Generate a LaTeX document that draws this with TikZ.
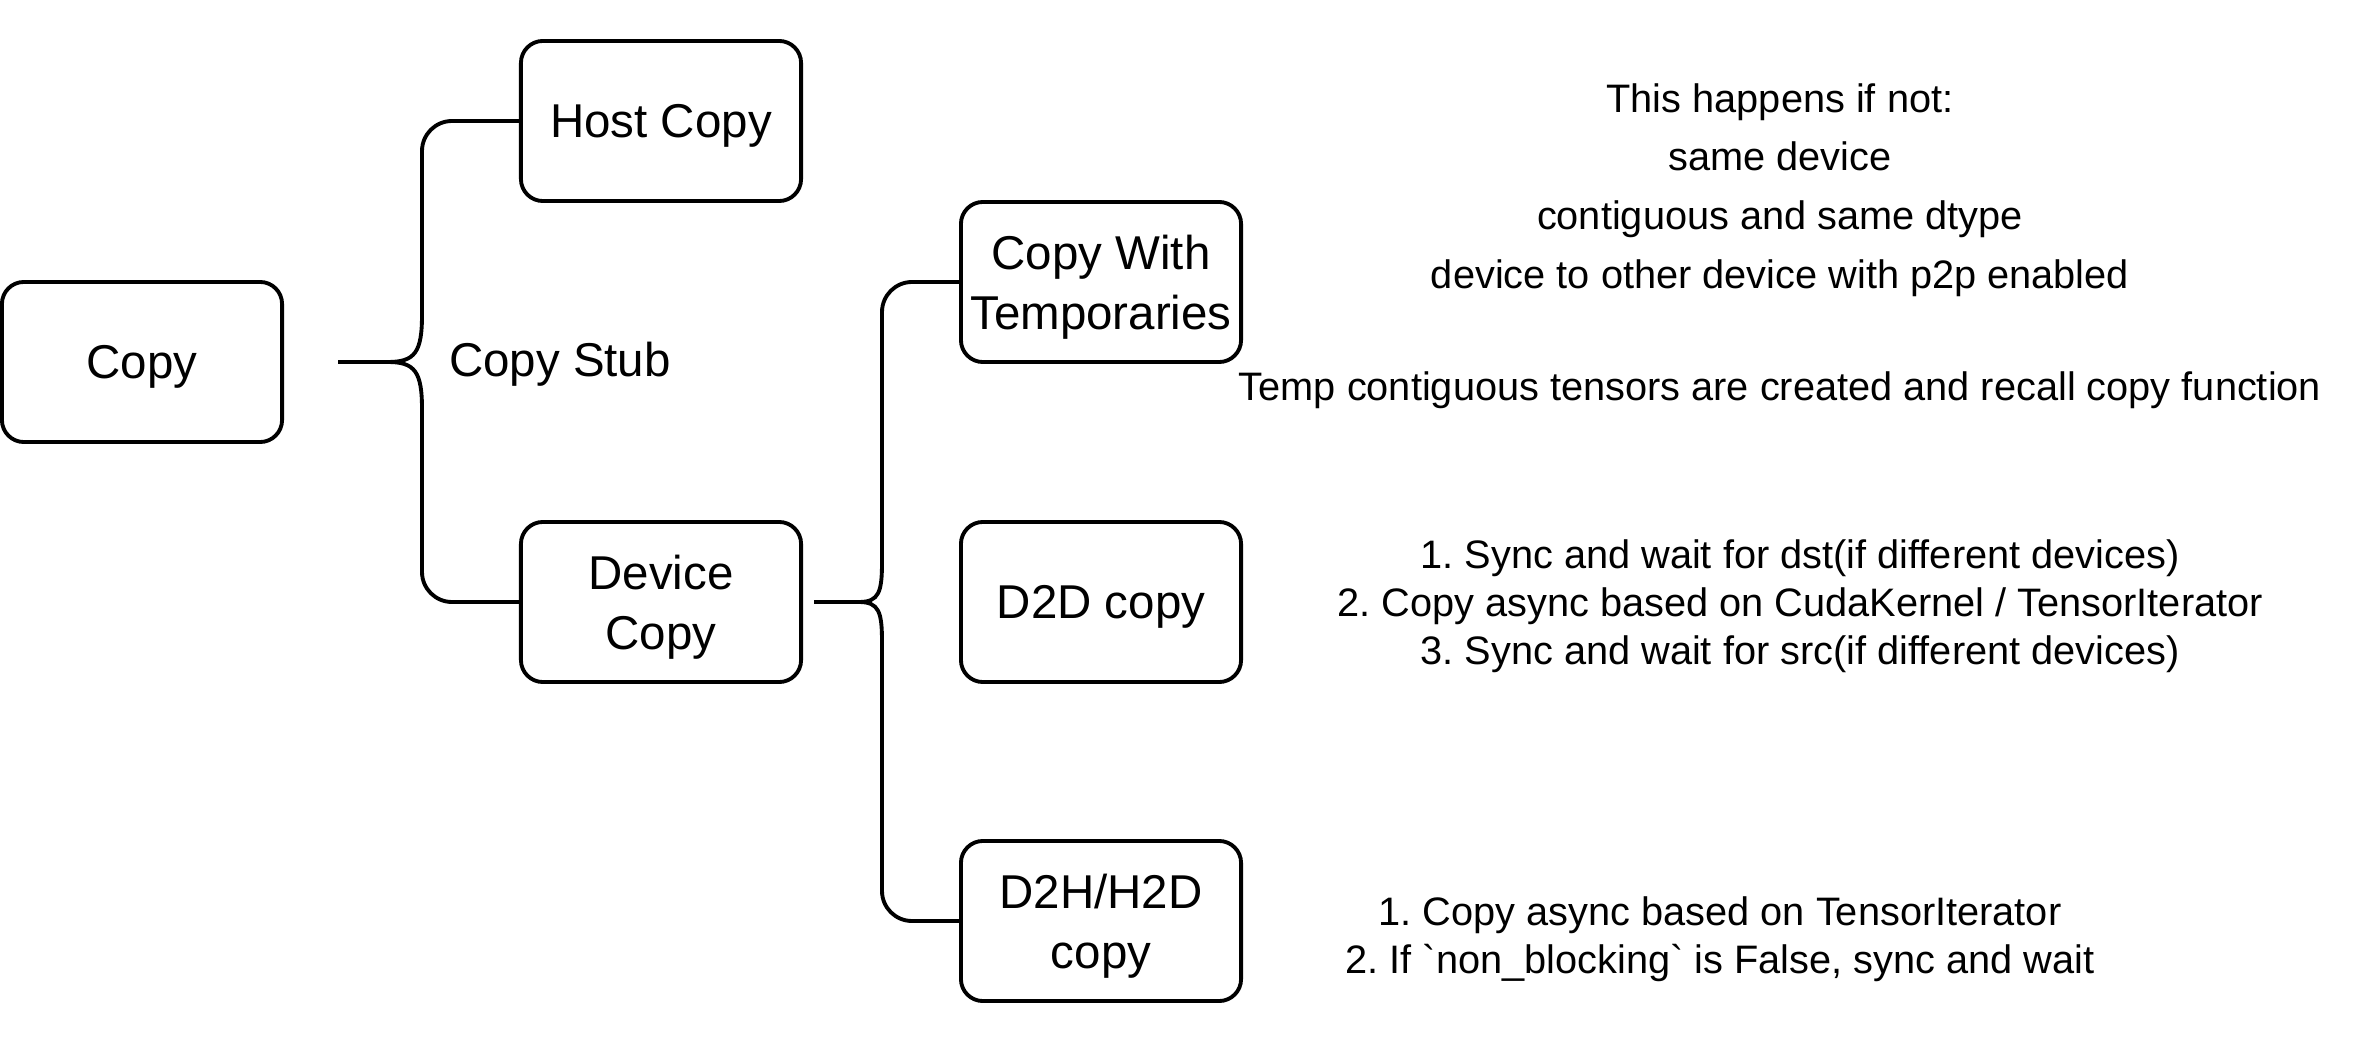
\documentclass[tikz,border=0pt]{standalone}
\usepackage{fontspec}
\setmainfont{Liberation Sans}
\frenchspacing
\begin{document}
\begin{tikzpicture}[x=0.01cm, y=-0.01cm,
    box/.style={draw, line width=1.1pt, rectangle, rounded corners=0.22cm, minimum width=2.8cm, minimum height=1.6cm, inner sep=0pt, text depth=0pt, align=center, font=\fontsize{13.5}{17}\selectfont},
    brace/.style={draw, line width=1.1pt},
    note/.style={align=center, inner sep=0pt, font=\fontsize{11.3}{13.6}\selectfont}]

    \useasboundingbox (0,0) rectangle (2364,1064);

    % Copy und Stub
    \node[box] (copy) at (142,362) {Copy};
    \node[box] (host) at (661,121) {Host Copy};
    \node[box] (device) at (661,602) {Device\\Copy};
    \node[font=\fontsize{13.5}{17}\selectfont, inner sep=0pt] (stub) at (560,364) {Copy Stub};

    % Device Copy Zweige
    \node[box] (temp) at (1101,282) {Copy With\\Temporaries};
    \node[box] (d2d) at (1101,602) {D2D copy};
    \node[box] (d2h) at (1101,921) {D2H/H2D\\copy};

    % Klammern
    \coordinate (stubA) at (338,362);
    \coordinate (stubB) at (814,602);
    \draw[brace] (stubA) -- ++(50,0) .. controls +(27,0) and +(0,37) .. ++(34,-47) [rounded corners=0.3cm] |- (host.west);
    \draw[brace] (stubA) -- ++(50,0) .. controls +(27,0) and +(0,-37) .. ++(34,47) [rounded corners=0.3cm] |- (device.west);
    \draw[brace] (stubB) -- ++(45,0) .. controls +(20,0) and +(0,30) .. ++(23,-40) [rounded corners=0.3cm] |- (temp.west);
    \draw[brace] (stubB) -- ++(45,0) .. controls +(20,0) and +(0,-30) .. ++(23,40) [rounded corners=0.3cm] |- (d2h.west);

    % Beschreibungen
    \node[note, font=\fontsize{11.3}{16.7}\selectfont] (cond) at (1780,190) {This happens if not:\\same device\\contiguous and same dtype\\device to other device with p2p enabled};
    \node[note] (tempnote) at (1780,390) {Temp contiguous tensors are created and recall copy function};
    \node[note] (d2dnote) at (1800,606) {1. Sync and wait for dst(if different devices)\\2. Copy async based on CudaKernel / TensorIterator\\3. Sync and wait for src(if different devices)};
    \node[note] (d2hnote) at (1720,939) {1. Copy async based on TensorIterator\\2. If \textasciigrave non\_blocking\textasciigrave{} is False, sync and wait};
\end{tikzpicture}
\end{document}
